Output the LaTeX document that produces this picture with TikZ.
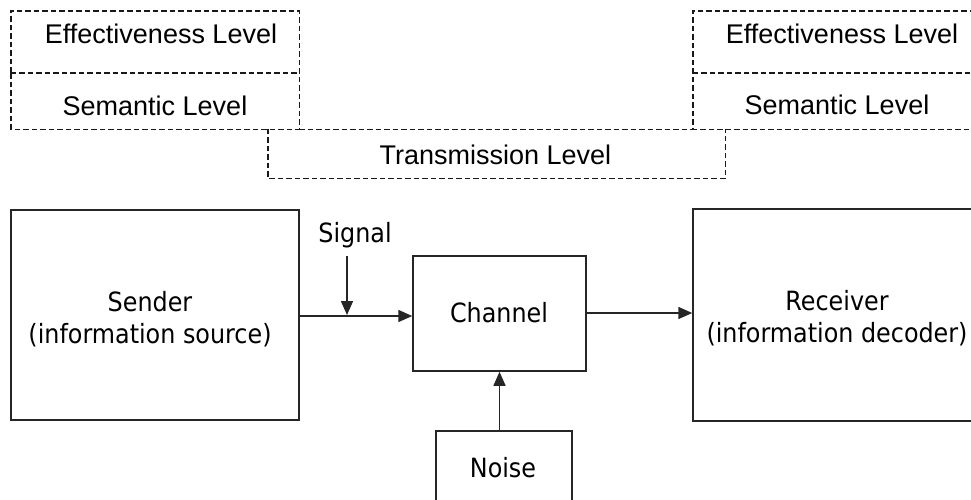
\documentclass[tikz,border=0pt]{standalone}
\usepackage{fontspec}
\setmainfont{Liberation Sans}
\newfontfamily\blockfont[FakeStretch=0.9]{DejaVu Sans}
\usetikzlibrary{arrows.meta}

\tikzset{
  levelline/.style={draw=black!90, line width=1.4pt, dash pattern=on 5.5pt off 3pt},
  levelarea/.style={inner sep=0pt, minimum width=288pt},
  levtext/.style={anchor=base, inner sep=0pt, font=\fontsize{27}{32}\selectfont},
  block/.style={draw=black!85, line width=1.5pt, inner sep=0pt},
  blocktext/.style={inner sep=0pt, align=center,
    font=\blockfont\fontsize{26.5}{32}\selectfont},
  flow/.style={line width=1.5pt, draw=black!85,
    -{Triangle[length=14pt,width=12pt]}},
}

\begin{document}
\begin{tikzpicture}[x=1pt,y=-1pt]
  \useasboundingbox (0,0) rectangle (971,499);

  % level areas (outlines drawn below so shared edges are dashed once)
  \node[levelarea, minimum height=62pt] (effL) at (155,42) {};
  \node[levelarea, minimum height=56pt] (semL) at (155,101) {};
  \node[levelarea, minimum height=62pt] (effR) at (837,42) {};
  \node[levelarea, minimum height=56pt] (semR) at (837,101) {};
  \node[inner sep=0pt, minimum width=457pt, minimum height=49pt] (trans) at (496.5,153.5) {};

  % sender side: effectiveness on top of semantic
  \draw[levelline] (semL.north west) -- (effL.north west) -- (effL.north east)
    -- (semL.south east) -- (semL.south west) -- cycle;
  \draw[levelline] (semL.north west) -- (semL.north east);
  % receiver side
  \draw[levelline] (semR.north east) -- (effR.north east) -- (effR.north west)
    -- (semR.south west) -- (semR.south east);
  \draw[levelline] (semR.north west) -- (semR.north east);
  % transmission level hangs below both semantic levels
  \draw[levelline] (semL.south east) -- (semR.south west);
  \draw[levelline] (trans.north west) -- (trans.south west) -- (trans.south east)
    -- (trans.north east);

  \node[levtext] (effLt) at (161,43) {Effectiveness Level};
  \node[levtext] (semLt) at (155,115) {Semantic Level};
  \node[levtext] (effRt) at (842,43) {Effectiveness Level};
  \node[levtext] (semRt) at (837,114) {Semantic Level};
  \node[levtext] (transt) at (495.5,164) {Transmission Level};

  % communication blocks
  \node[block, minimum width=288pt, minimum height=210pt] (sender) at (155,315) {};
  \node[blocktext] (sendert) at (150,319) {Sender\\(information source)};

  \node[block, minimum width=173pt, minimum height=115pt] (channel) at (499.5,313.5) {};
  \node[blocktext] (channelt) at (499,313) {Channel};

  \node[block, minimum width=288pt, minimum height=212pt] (receiver) at (837,315) {};
  \node[blocktext] (receivert) at (837,318) {Receiver\\(information decoder)};

  \node[block, minimum width=136pt, minimum height=80pt] (noise) at (504,471) {};
  \node[blocktext] (noiset) at (503,467.5) {Noise};

  % signal entering the line
  \node[blocktext, anchor=base] (signal) at (355,242) {Signal};
  \coordinate (sigtop) at (347,256);
  \coordinate (sigtip) at (347,315);

  % connectors
  \draw[flow] (sender.east |- 0,316) -- (channel.west |- 0,316);
  \draw[flow] (sigtop) -- (sigtip);
  \draw[flow] (channel.east |- 0,313) -- (receiver.west |- 0,313);
  \draw[flow] (channel.south |- noise.north) -- (channel.south);
\end{tikzpicture}
\end{document}
